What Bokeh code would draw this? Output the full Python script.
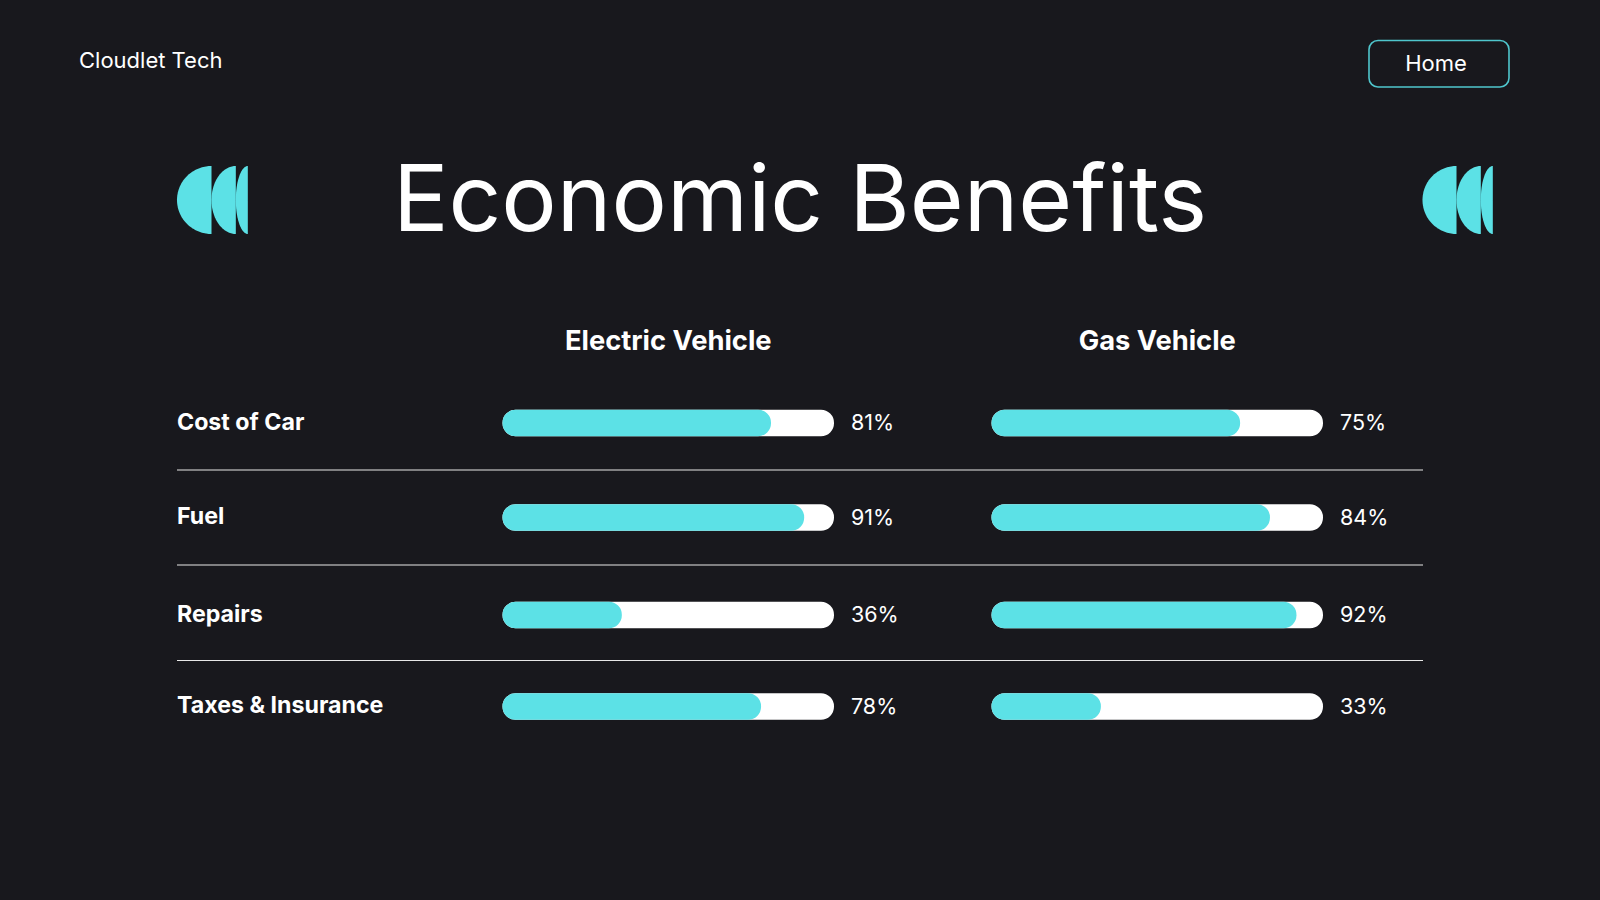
import numpy as np
from bokeh.plotting import figure
from bokeh.models import Range1d, ColumnDataSource
from bokeh.core.properties import value
from bokeh.embed import file_html
from bokeh.resources import INLINE

categories = ["Cost of Car", "Fuel", "Repairs", "Taxes & Insurance"]
electric_vehicle = [81, 91, 36, 78]
gas_vehicle = [75, 84, 92, 33]
series_names = ["Electric Vehicle", "Gas Vehicle"]

BG = "#18181d"
TEAL = "#5ce1e6"
WHITE = "#ffffff"

p = figure(width=1592, height=892, output_backend="svg", toolbar_location=None,
           x_range=Range1d(-1, 1591), y_range=Range1d(891, -1),
           background_fill_color=BG, border_fill_color=BG, outline_line_color=None,
           min_border=0, x_axis_type=None, y_axis_type=None)
p.grid.visible = False
p.styles = {"box-shadow": f"0 0 0 10px {BG}", "position": "relative", "left": "-1px", "top": "-1px"}

row_y = [422.5, 517, 614.5, 706]
sep_y = [469.5, 564.5, 660]
col_left = [502, 991]
BAR_W = 331.5
BAR_H = 26.5

def put(x, y, s, size, font="Inter", style="normal", align="left", color=WHITE):
    p.text([x], [y], text=[s], text_font=value(font), text_font_size=f"{size}px",
           text_font_style=style, text_align=align, text_baseline="middle", text_color=color)

# Header
put(78.5, 59.5, "Cloudlet Tech", 22)
put(1435.5, 62, "Home", 22, align="center")
p.quad(left=[1368.5], right=[1508.5], top=[40], bottom=[86.5], border_radius=9,
       fill_color=None, line_color="#4fc6cd", line_width=1.6)
put(799.5, 196, "Economic Benefits", 92.5, align="center")

# Half-disc icons
for x0, chords in [(176.5, (211, 235.3, 247.3)), (1422, (1456, 1480.3, 1492.3))]:
    edge = x0
    for c in chords:
        t = np.linspace(np.pi / 2, 3 * np.pi / 2, 80)
        p.patch(c + (c - edge) * np.cos(t), 199.5 + 34 * np.sin(t), fill_color=TEAL, line_color=None)
        edge = c

# Column titles
for left, name in zip(col_left, series_names):
    put(left + BAR_W / 2, 339.5, name, 27.3, style="bold", align="center")

# Row labels and separators
for y, c in zip(row_y, categories):
    put(176.5, y - 1.5, c, 23.2, style="bold")
p.segment(x0=[176.5] * 3, x1=[1422.5] * 3, y0=sep_y, y1=sep_y, line_color="#e8e8e8", line_width=1)

# Bars
for left, vals in zip(col_left, [electric_vehicle, gas_vehicle]):
    v = np.array(vals, dtype=float)
    y = np.array(row_y)
    src = ColumnDataSource(dict(l=[left] * 4, r=left + v / 100 * BAR_W, R=[left + BAR_W] * 4,
                                t=y - BAR_H / 2, b=y + BAR_H / 2))
    p.quad(left="l", right="R", top="t", bottom="b", source=src, fill_color=WHITE, line_color=None,
           border_radius=13)
    p.quad(left="l", right="r", top="t", bottom="b", source=src, fill_color=TEAL, line_color=None,
           border_radius=13)
    for yy, val in zip(row_y, vals):
        put(left + BAR_W + 17, yy - 1, f"{val}%", 21.5)

open("out.html", "w").write(file_html(p, INLINE))
